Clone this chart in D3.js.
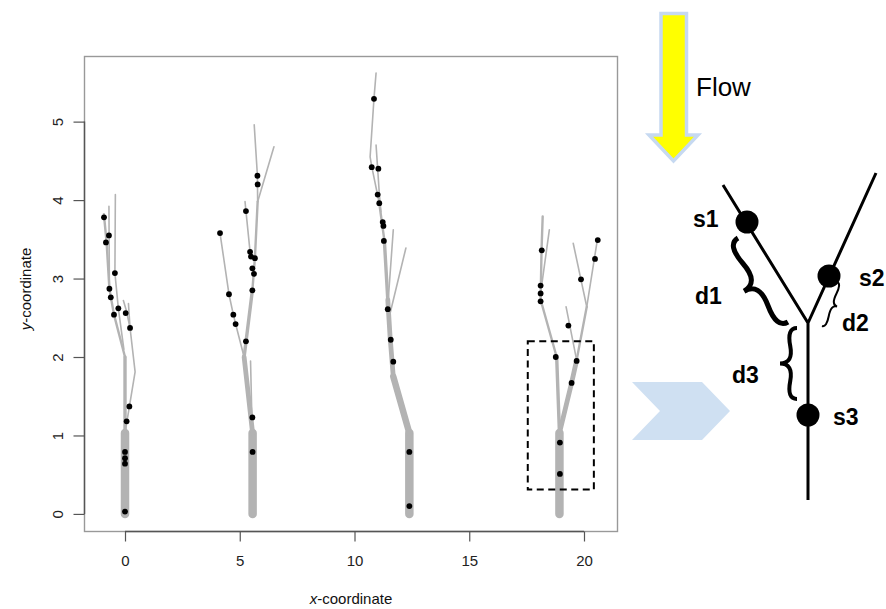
<!DOCTYPE html>
<html>
<head>
<meta charset="utf-8">
<script src="https://cdn.jsdelivr.net/npm/d3@7"></script>
<style>
  html, body { margin: 0; padding: 0; background: #fff; }
  svg { display: block; }
  text { font-family: "Liberation Sans", Arial, Helvetica, sans-serif; }
</style>
</head>
<body>
<svg id="chart" width="886" height="609"></svg>
<script>
// ---------------- data ----------------
const xTicks = [0, 5, 10, 15, 20];
const yTicks = [0, 1, 2, 3, 4, 5];
const xLabel = "-coordinate";
const yLabel = "-coordinate";

// stream segments: [order, [[x,y], ...]]
const tree1Segments = [
  [6, [[0, 0], [0, 1.03]]],
  [3, [[0, 1.03], [0, 2.0]]],
  [1, [[0, 1.03], [0.44, 1.81], [0.22, 2.37], [0.07, 2.58], [-0.07, 2.72]]],
  [1, [[0.22, 2.37], [0.15, 2.68]]],
  [2, [[0, 2.0], [-0.48, 2.54], [-0.68, 2.87], [-0.80, 3.45], [-0.92, 3.82]]],
  [1, [[-0.70, 3.92], [-0.68, 2.87]]],
  [1, [[-0.42, 4.07], [-0.44, 3.07], [-0.29, 2.62], [-0.05, 2.1]]]
];
const tree2Segments = [
  [6, [[5.56, 0], [5.56, 1.03]]],
  [4, [[5.56, 1.03], [5.19, 2.0]]],
  [1, [[5.47, 1.95], [5.53, 1.2]]],
  [3, [[5.19, 2.0], [5.55, 2.85]]],
  [2, [[5.55, 2.85], [5.66, 3.26], [5.78, 3.98]]],
  [1, [[5.78, 3.98], [5.77, 4.31], [5.63, 4.96]]],
  [1, [[5.78, 3.98], [6.49, 4.68]]],
  [1, [[5.19, 2.0], [4.82, 2.42], [4.72, 2.54], [4.53, 2.80], [4.14, 3.58]]],
  [1, [[5.45, 3.34], [5.27, 3.86], [5.23, 3.98]]]
];
const tree3Segments = [
  [6, [[12.39, 0], [12.39, 1.03]]],
  [5, [[12.39, 1.03], [11.69, 1.75]]],
  [4, [[11.69, 1.75], [11.55, 2.26], [11.45, 2.73]]],
  [3, [[11.45, 2.73], [11.30, 3.49]]],
  [2, [[11.30, 3.49], [11.08, 3.96]]],
  [1, [[11.08, 3.96], [10.75, 4.43], [10.68, 4.55], [10.85, 5.30], [10.94, 5.62]]],
  [1, [[10.94, 4.70], [11.08, 4.09], [11.15, 3.85]]],
  [1, [[11.69, 3.62], [11.47, 2.73]]],
  [1, [[12.24, 3.39], [11.52, 2.52]]]
];
const tree4Segments = [
  [6, [[18.93, 0], [18.93, 1.03]]],
  [3, [[18.93, 1.03], [18.81, 2.0]]],
  [2, [[18.81, 2.0], [18.11, 2.73], [18.15, 3.36], [18.20, 3.79]]],
  [1, [[18.49, 3.62], [18.15, 2.90]]],
  [4, [[18.93, 1.03], [19.46, 1.67], [19.68, 1.96]]],
  [2, [[19.68, 1.96], [20.12, 2.64]]],
  [1, [[20.12, 2.64], [20.58, 3.49]]],
  [1, [[19.53, 3.45], [20.12, 2.64]]],
  [1, [[19.22, 2.64], [19.68, 1.96]]]
];

// observation sites
const tree1Sites = [[-0.915, 3.78], [-0.70, 3.55], [-0.83, 3.46], [-0.44, 3.07], [-0.68, 2.87], [-0.62, 2.76],
  [-0.48, 2.54], [-0.29, 2.62], [0.03, 2.56], [0.22, 2.37], [0.19, 1.37], [0.07, 1.18], [0, 0.79], [0, 0.71], [0, 0.64], [0, 0.03]];
const tree2Sites = [[5.77, 4.31], [5.78, 4.20], [5.27, 3.86], [4.14, 3.58], [5.45, 3.34], [5.49, 3.28], [5.66, 3.26],
  [5.55, 3.13], [5.62, 3.06], [5.55, 2.85], [4.53, 2.80], [4.72, 2.54], [4.82, 2.42], [5.27, 2.20], [5.55, 1.23], [5.56, 0.79]];
const tree3Sites = [[10.85, 5.29], [10.75, 4.42], [11.04, 4.40], [11.01, 4.07], [11.08, 3.96], [11.23, 3.72], [11.26, 3.67],
  [11.28, 3.48], [11.45, 2.61], [11.58, 2.22], [11.69, 1.94], [12.39, 0.79], [12.39, 0.10]];
const tree4Sites = [[18.16, 3.36], [18.11, 2.91], [18.11, 2.81], [18.11, 2.71], [19.32, 2.40], [19.87, 2.99], [20.48, 3.25],
  [20.60, 3.49], [18.77, 2.0], [19.68, 1.95], [19.46, 1.67], [18.95, 0.91], [18.95, 0.51]];

// highlighted region (data coords)
const zoomBox = [[17.55, 0.31], [20.43, 2.2]];

const diagramLabels = ["Flow", "s1", "s2", "s3", "d1", "d2", "d3"];

// ---------------- drawing ----------------
const svg = d3.select("#chart");
const L = 84.5, R = 617.5, T = 56.5, B = 531.5;
const x = d3.scaleLinear().domain([-1.765, 21.46]).range([L, R]);
const y = d3.scaleLinear().domain([-0.224, 5.83]).range([B, T]);
const width = d3.scaleOrdinal().domain([1, 2, 3, 4, 5, 6]).range([1.6, 2.4, 3.4, 4.8, 6.5, 8.5]);

const line = d3.line().x(d => x(d[0])).y(d => y(d[1]));
const segs = [].concat(tree1Segments, tree2Segments, tree3Segments, tree4Segments);
const sites = [].concat(tree1Sites, tree2Sites, tree3Sites, tree4Sites);

const g = svg.append("g");
g.selectAll("path.seg").data(segs).join("path")
  .attr("class", "seg")
  .attr("d", d => line(d[1]))
  .attr("fill", "none")
  .attr("stroke", "#b3b3b3")
  .attr("stroke-width", d => width(d[0]))
  .attr("stroke-linecap", "round")
  .attr("stroke-linejoin", "round");

g.selectAll("circle.site").data(sites).join("circle")
  .attr("class", "site")
  .attr("cx", d => x(d[0])).attr("cy", d => y(d[1]))
  .attr("r", 2.9).attr("fill", "#000");

// dashed box
svg.append("rect")
  .attr("x", x(zoomBox[0][0])).attr("y", y(zoomBox[1][1]))
  .attr("width", x(zoomBox[1][0]) - x(zoomBox[0][0]))
  .attr("height", y(zoomBox[0][1]) - y(zoomBox[1][1]))
  .attr("fill", "none").attr("stroke", "#000").attr("stroke-width", 2)
  .attr("stroke-dasharray", "7,4.5");

// plot box
svg.append("rect").attr("x", L).attr("y", T).attr("width", R - L).attr("height", B - T)
  .attr("fill", "none").attr("stroke", "#999").attr("stroke-width", 1.4);

// axes
const xa = svg.append("g").attr("transform", `translate(0,${B})`)
  .call(d3.axisBottom(x).tickValues(xTicks).tickFormat(d3.format("d")).tickSize(10).tickPadding(14).tickSizeOuter(0));
xa.select(".domain").attr("d", `M${x(xTicks[0])},0H${x(xTicks[xTicks.length - 1])}`).attr("stroke", "#555").attr("stroke-width", 1.4);
xa.selectAll(".tick line").attr("stroke", "#555").attr("stroke-width", 1.2);
xa.selectAll(".tick text").attr("font-size", 15).attr("fill", "#222")
  .attr("font-family", "Liberation Sans, Arial, sans-serif");

const ya = svg.append("g").attr("transform", `translate(${L},0)`)
  .call(d3.axisLeft(y).tickValues(yTicks).tickFormat(d3.format("d")).tickSize(11).tickSizeOuter(0));
ya.select(".domain").attr("d", `M0,${y(yTicks[0])}V${y(yTicks[yTicks.length - 1])}`).attr("stroke", "#555").attr("stroke-width", 1.4);
ya.selectAll(".tick line").attr("stroke", "#555").attr("stroke-width", 1.2);
ya.selectAll(".tick text").attr("font-size", 15).attr("fill", "#222")
  .attr("font-family", "Liberation Sans, Arial, sans-serif")
  .attr("transform", "rotate(-90)")
  .attr("x", 0).attr("y", -22).attr("dy", 0)
  .attr("text-anchor", "middle");

// axis titles
const xt = svg.append("text").attr("x", (L + R) / 2).attr("y", 604)
  .attr("text-anchor", "middle").attr("font-size", 15).attr("fill", "#111");
xt.append("tspan").attr("font-style", "italic").text("x");
xt.append("tspan").text(xLabel);

const yt = svg.append("text").attr("transform", `translate(31,${(T + B) / 2 - 5}) rotate(-90)`)
  .attr("text-anchor", "middle").attr("font-size", 15).attr("fill", "#111");
yt.append("tspan").attr("font-style", "italic").text("y");
yt.append("tspan").text(yLabel);

// ---------------- schematic ----------------
const sch = svg.append("g");

// flow arrow
sch.append("polygon")
  .attr("points", [[661, 13.5], [686.5, 13.5], [686.5, 135], [698, 135], [673.5, 161], [649, 135], [661, 135]].map(p => p.join(",")).join(" "))
  .attr("fill", "#ffff00").attr("stroke", "#c6d9f1").attr("stroke-width", 3.5).attr("stroke-linejoin", "miter");
sch.append("text").attr("x", 696).attr("y", 96).attr("font-size", 26).text(diagramLabels[0]);

// chevron
sch.append("polygon")
  .attr("points", [[632, 382], [702, 382], [730, 411], [702, 440], [632, 440], [660, 411]].map(p => p.join(",")).join(" "))
  .attr("fill", "#cfe0f2");

// network lines
const J = [808, 323];
sch.append("path").attr("d", `M723,185L${J[0]},${J[1]}M876,173L${J[0]},${J[1]}M${J[0]},${J[1]}L${J[0]},500`)
  .attr("stroke", "#000").attr("stroke-width", 3).attr("fill", "none");

// sites
[[747, 222], [829, 276], [808, 415]].forEach(p => {
  sch.append("circle").attr("cx", p[0]).attr("cy", p[1]).attr("r", 11.5).attr("fill", "#000");
});

function brace(x1, y1, x2, y2, w, q) {
  let dx = x1 - x2, dy = y1 - y2;
  const len = Math.sqrt(dx * dx + dy * dy);
  dx /= len; dy /= len;
  const qx1 = x1 + q * w * dy, qy1 = y1 - q * w * dx;
  const qx2 = (x1 - .25 * len * dx) + (1 - q) * w * dy, qy2 = (y1 - .25 * len * dy) - (1 - q) * w * dx;
  const tx1 = (x1 - .5 * len * dx) + w * dy, ty1 = (y1 - .5 * len * dy) - w * dx;
  const qx3 = x2 + q * w * dy, qy3 = y2 - q * w * dx;
  const qx4 = (x1 - .75 * len * dx) + (1 - q) * w * dy, qy4 = (y1 - .75 * len * dy) - (1 - q) * w * dx;
  return `M${x1},${y1}Q${qx1},${qy1} ${qx2},${qy2}T${tx1},${ty1}M${x2},${y2}Q${qx3},${qy3} ${qx4},${qy4}T${tx1},${ty1}`;
}
sch.append("path").attr("d", brace(738, 238, 788, 322, 22, 0.6))
  .attr("fill", "none").attr("stroke", "#000").attr("stroke-width", 5).attr("stroke-linecap", "butt");
sch.append("path").attr("d", brace(822, 326, 837, 282, 8, 0.6))
  .attr("fill", "none").attr("stroke", "#000").attr("stroke-width", 2);
sch.append("path").attr("d", brace(797, 328, 797, 399, 17, 0.6))
  .attr("fill", "none").attr("stroke", "#000").attr("stroke-width", 4);

// labels
const lab = [[diagramLabels[1], 693, 227], [diagramLabels[2], 859, 286], [diagramLabels[3], 833, 425],
  [diagramLabels[4], 695, 304], [diagramLabels[5], 842, 331], [diagramLabels[6], 732, 383]];
lab.forEach(d => {
  sch.append("text").attr("x", d[1]).attr("y", d[2]).attr("font-size", 23).attr("font-weight", "bold").text(d[0]);
});
</script>
</body>
</html>
